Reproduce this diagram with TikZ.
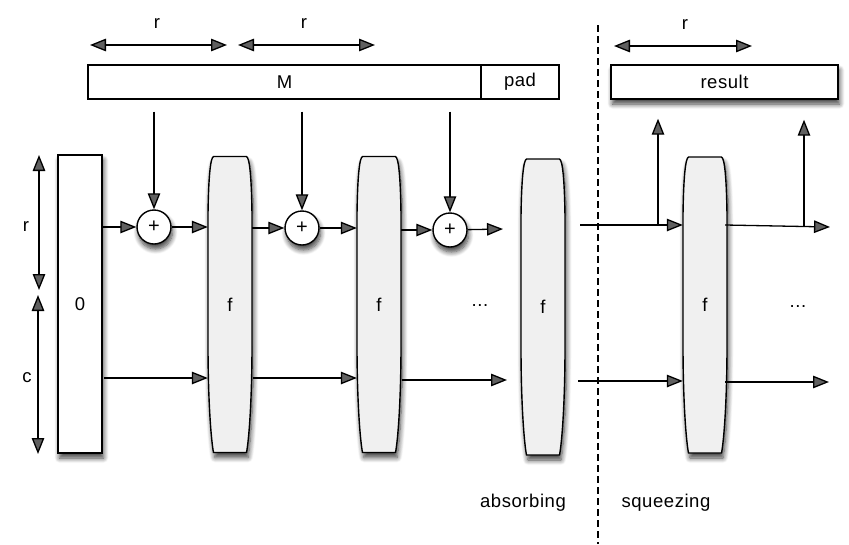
\documentclass[tikz,border=0pt]{standalone}
\usepackage{fontspec}
\setmainfont{Liberation Sans}[LetterSpace=3]
\usetikzlibrary{arrows.meta,shadows.blur,calc}
\pgfdeclarelayer{bg}
\pgfsetlayers{bg,main}
\definecolor{fgray}{RGB}{240,240,240}
\tikzset{
  lbl/.style={font=\fontsize{18.5}{21}\selectfont,inner sep=0pt},
  shad/.style={blur shadow={shadow xshift=1.5pt,shadow yshift=-5pt,shadow blur radius=5pt,shadow blur steps=8,shadow opacity=75}},
  box/.style={lbl,draw,line width=1.4pt,minimum height=34pt,inner sep=0pt},
  zerobox/.style={lbl,draw,line width=1.4pt,fill=white,shad,minimum width=44pt,minimum height=298pt,inner sep=0pt},
  fnode/.style={lbl,minimum width=44pt,minimum height=296pt},
  fbody/.style={draw,line width=1.4pt,fill=fgray,shad},
  plus/.style={circle,draw,line width=1.4pt,fill=white,shad,minimum size=34pt,inner sep=0pt,font=\fontsize{20}{22}\selectfont},
  arr/.style={line width=1.3pt,-{Triangle[length=16pt,width=12.5pt]}},
  darr/.style={line width=1.3pt,{Triangle[length=16pt,width=12.5pt]}-{Triangle[length=16pt,width=12.5pt]}},
  dashline/.style={line width=1.2pt,dash pattern=on 7pt off 4pt},
}
\newcommand\barrelat[1]{%
  \draw[fbody,shift={(#1)}] (-16.5,-148) -- (16.5,-148)
    .. controls (19.5,-147) and (21.5,-128) .. (22,-90)
    -- (22,40)
    .. controls (22,95) and (19,135) .. (16.5,148)
    -- (-16.5,148)
    .. controls (-19,135) and (-22,95) .. (-22,40)
    -- (-22,-90)
    .. controls (-21.5,-128) and (-19.5,-147) .. (-16.5,-148) -- cycle;}
\begin{document}
\begin{tikzpicture}[x=1pt,y=-1pt]
\useasboundingbox (0,0) rectangle (849,544);

% top boxes
\node[box,minimum width=393pt] (M) at (284.5,82) {M};
\node[box,minimum width=78pt] (pad) at (520,82) {pad};
\node[box,minimum width=227pt,fill=white,shad] (result) at (724.5,82) {result};
\begin{pgfonlayer}{bg}
  \fill[white,shad] (M.north west) rectangle (pad.south east);
\end{pgfonlayer}

% dashed separator
\coordinate (d1) at (598,25);
\coordinate (d2) at (598,544);
\draw[dashline] (d1) -- (d2);

% state blocks
\node[zerobox] (zero) at (80,304) {0};
\coordinate (c1) at (230,304.5);
\coordinate (c2) at (379,304.5);
\coordinate (c3) at (543,307);
\coordinate (c4) at (705,305);
\barrelat{c1}
\barrelat{c2}
\barrelat{c3}
\barrelat{c4}
\node[fnode] (f1) at (c1) {f};
\node[fnode] (f2) at (c2) {f};
\node[fnode] (f3) at (c3) {f};
\node[fnode] (f4) at (c4) {f};

% xor circles
\node[plus] (p1) at (154,227) {+};
\node[plus] (p2) at (302,228) {+};
\node[plus] (p3) at (450,230) {+};

% M -> xor
\draw[arr] ($(p1 |- M.south)+(0,12)$) -- (p1);
\draw[arr] ($(p2 |- M.south)+(0,12)$) -- (p2);
\draw[arr] ($(p3 |- M.south)+(0,12)$) -- (p3);

% r row
\coordinate (e1) at (503,229);
\coordinate (s1) at (580,225);
\coordinate (e2) at (830,227);
\draw[arr] (zero.east |- p1) -- (p1);
\draw[arr] (p1) -- (f1.west |- p1);
\draw[arr] (f1.east |- p2) -- (p2);
\draw[arr] (p2) -- (f2.west |- p2);
\draw[arr] (f2.east |- p3) -- (p3);
\draw[arr] (p3) -- (e1);
\draw[arr] (s1) -- (f4.west |- s1);
\draw[arr] ($(f4.east |- s1)+(-2,0)$) -- (e2);

% squeeze outputs
\coordinate (u1) at (658,224);
\coordinate (u2) at (804,226);
\draw[arr] (u1) -- ($(u1 |- result.south)+(0,19)$);
\draw[arr] (u2) -- ($(u2 |- result.south)+(0,20)$);

% c row
\coordinate (cs0) at (104,378);
\coordinate (e3) at (507,380);
\coordinate (s2) at (578,381);
\coordinate (e4) at (829,382);
\draw[arr] (cs0) -- (f1.west |- cs0);
\draw[arr] ($(f1.east |- cs0)+(1,0)$) -- (f2.west |- cs0);
\draw[arr] ($(f2.east |- e3)+(1,0)$) -- (e3);
\draw[arr] (s2) -- (f4.west |- s2);
\draw[arr] ($(f4.east |- e4)+(-2,0)$) -- (e4);

% dimension arrows
\coordinate (ta1) at (90,45);  \coordinate (ta2) at (227,45);
\coordinate (tb1) at (238,45); \coordinate (tb2) at (375,45);
\coordinate (tc1) at (614,46); \coordinate (tc2) at (752,46);
\draw[darr] (ta1) -- (ta2);
\draw[darr] (tb1) -- (tb2);
\draw[darr] (tc1) -- (tc2);
\node[lbl] (lr1) at (157,24) {r};
\node[lbl] (lr2) at (304,24) {r};
\node[lbl] (lr3) at (685,25) {r};

\coordinate (va1) at (39,155); \coordinate (va2) at (39,290);
\coordinate (vb1) at (38,295); \coordinate (vb2) at (38,454);
\draw[darr] (va1) -- (va2);
\draw[darr] (vb1) -- (vb2);
\node[lbl] (lr4) at (26,227) {r};
\node[lbl] (lc) at (27,378) {c};

% dots and phase labels
\node[lbl] (dots1) at (480,306) {...};
\node[lbl] (dots2) at (798,307) {...};
\node[lbl] (abs) at (523,503) {absorbing};
\node[lbl] (sqz) at (666,503) {squeezing};
\end{tikzpicture}
\end{document}
